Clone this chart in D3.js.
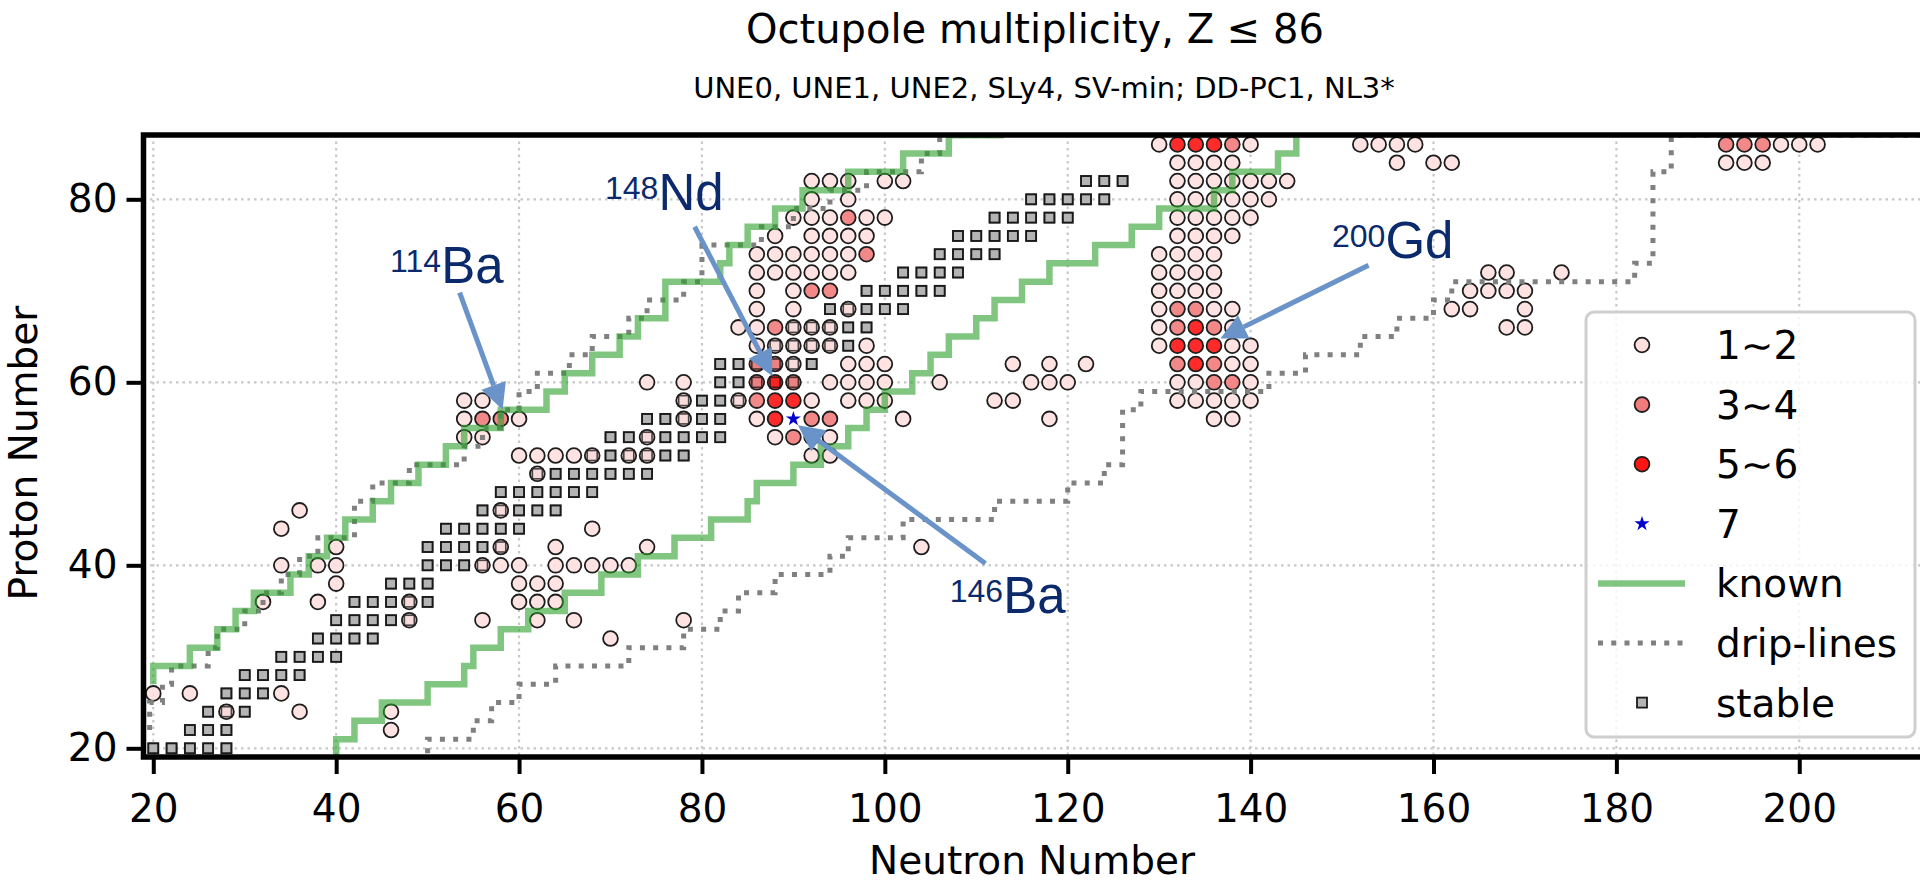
<!DOCTYPE html>
<html>
<head>
<meta charset="utf-8">
<script src="https://cdn.jsdelivr.net/npm/d3@7"></script>
<style>
  body { margin: 0; background: #fff; }
  svg { display: block; font-family: 'DejaVu Sans', sans-serif; }
</style>
</head>
<body>
<svg id="chart" width="1920" height="886"></svg>
<script>
// ---- values ----
const xTicks = [20, 40, 60, 80, 100, 120, 140, 160, 180, 200]
const yTicks = [20, 40, 60, 80]

// stable even-even nuclei: [Z, [N...]]
const stable = [
    [20, [20, 22, 24, 26, 28]], [22, [24, 26, 28]], [24, [26, 28, 30]], [26, [28, 30, 32]],
    [28, [30, 32, 34, 36]], [30, [34, 36, 38, 40]], [32, [38, 40, 42, 44]],
    [34, [40, 42, 44, 46, 48]], [36, [42, 44, 46, 48, 50]], [38, [46, 48, 50]],
    [40, [50, 52, 54, 56]], [42, [50, 52, 54, 56, 58]], [44, [52, 54, 56, 58, 60]],
    [46, [56, 58, 60, 62, 64]], [48, [58, 60, 62, 64, 66, 68]], [50, [62, 64, 66, 68, 70, 72, 74]],
    [52, [68, 70, 72, 74, 76, 78]], [54, [70, 72, 74, 76, 78, 80, 82]], [56, [74, 76, 78, 80, 82]],
    [58, [78, 80, 82, 84]], [60, [82, 84, 86, 88, 90]], [62, [82, 84, 86, 88, 90, 92]],
    [64, [88, 90, 92, 94, 96]], [66, [90, 92, 94, 96, 98]], [68, [94, 96, 98, 100, 102]],
    [70, [98, 100, 102, 104, 106]], [72, [102, 104, 106, 108]], [74, [106, 108, 110, 112]],
    [76, [108, 110, 112, 114, 116]], [78, [112, 114, 116, 118, 120]], [80, [116, 118, 120, 122, 124]],
    [82, [122, 124, 126]]
]

// octupole multiplicity, [Z, [N...]]
const mult12 = [
    [22, [46]], [24, [28, 36, 46]], [26, [20, 24, 34]], [32, [70]],
    [34, [48, 56, 62, 66, 78]], [36, [32, 38, 48, 60, 62, 64]], [38, [40, 60, 62, 64]],
    [40, [34, 38, 40, 56, 58, 60, 64, 66, 68, 70, 72]], [42, [40, 58, 64, 74, 104]],
    [44, [34, 68]], [46, [36, 58]], [50, [62]],
    [52, [60, 62, 64, 66, 68, 72, 74, 92, 94]], [54, [54, 56, 74, 88, 92, 94]],
    [56, [54, 60, 78, 86, 102, 118, 136, 138]],
    [58, [54, 56, 78, 84, 92, 96, 98, 100, 112, 114, 132, 134, 136, 138, 140]],
    [60, [74, 78, 94, 96, 98, 100, 106, 116, 118, 120, 132, 134, 140]],
    [62, [90, 96, 98, 100, 114, 118, 122, 138, 140]],
    [64, [86, 88, 90, 92, 94, 98, 130, 138, 140]],
    [66, [84, 86, 90, 92, 94, 130, 138, 168, 170]],
    [68, [86, 90, 96, 130, 136, 138, 162, 164, 170]],
    [70, [86, 90, 130, 132, 134, 136, 164, 166, 168, 170]],
    [72, [86, 88, 90, 92, 94, 96, 130, 132, 134, 136, 166, 168, 174]],
    [74, [86, 88, 90, 92, 94, 96, 130, 132, 134, 136]],
    [76, [88, 92, 94, 96, 98, 132, 134, 136, 138]],
    [78, [90, 92, 94, 98, 100, 132, 134, 136, 138, 140]],
    [80, [92, 96, 132, 134, 136, 138, 140, 142]],
    [82, [92, 94, 96, 100, 102, 132, 134, 136, 138, 140, 142, 144]],
    [84, [132, 134, 136, 138, 156, 160, 162, 192, 194, 196]],
    [86, [130, 140, 152, 154, 156, 158, 198, 200, 202]]
]
const mult34 = [
    [54, [90]], [56, [56, 58, 92, 94]], [58, [86]], [60, [86, 90, 136, 138]],
    [62, [86, 88, 132, 136]], [66, [88, 132, 136]], [68, [132, 134]], [70, [92, 94]],
    [74, [98]], [78, [96]], [86, [138, 192, 194, 196]]
]
const mult56 = [
    [56, [88]], [58, [88, 90]], [60, [88]], [62, [134]], [64, [132, 134, 136]],
    [66, [134]], [86, [132, 134, 136]]
]
const mult7 = [[56, [90]]]

// step lines: N of each vertical run, Z where that run starts
const knownPN = [20, 24, 27, 29, 31, 35, 37, 39, 41, 44, 46, 49, 52, 54, 58, 63, 65, 68, 71, 73, 76, 82, 83, 85, 88, 91, 96, 102, 107, 113]
const knownPZ = [27, 29, 31, 33, 35, 37, 39, 41, 43, 45, 47, 49, 51, 53, 55, 57, 59, 61, 63, 65, 67, 71, 73, 75, 77, 79, 81, 83, 85, 87]
const knownNN = [40, 42, 45, 50, 54, 55, 58, 61, 65, 69, 73, 77, 81, 85, 86, 90, 93, 96, 98, 100, 103, 105, 107, 110, 112, 115, 118, 123, 127, 130, 136, 138, 143, 145, 145]
const knownNZ = [18, 21, 23, 25, 27, 29, 31, 33, 35, 37, 39, 41, 43, 45, 47, 49, 51, 53, 55, 57, 59, 61, 63, 65, 67, 69, 71, 73, 75, 77, 79, 81, 83, 85, 88]
const dripPN = [19.6, 21, 22, 26, 27, 30, 32, 34, 36, 38, 42, 44, 48, 54, 56, 58, 60, 62, 65.5, 68, 72, 74, 78, 80, 86.5, 90, 94, 98, 104, 106, 112]
const dripPZ = [22, 25, 27, 29, 31, 33, 35, 37, 39, 41, 43, 47, 49, 51, 53, 55, 57, 59, 61, 63, 65, 67, 69, 71, 75, 77, 79, 81, 83, 85, 87]
const dripNN = [50, 55, 57, 60, 64, 72, 78, 82, 84, 88, 94, 96, 102, 112, 120, 124, 126, 128, 142, 146, 152, 156, 160, 162, 182, 184, 186, 216]
const dripNZ = [18, 21, 23, 25, 27, 29, 31, 33, 35, 37, 39, 41, 43, 45, 47, 49, 51, 57, 59, 61, 63, 65, 67, 69, 71, 73, 83, 87]

const legendLabels = ['1\u223C2', '3\u223C4', '5\u223C6', '7', 'known', 'drip-lines', 'stable']

// annotation placement (in N, Z units)
const notes = [
    { mass: '114', el: 'Ba', n: 45.9, z: 70.85, fromN: 53.5, fromZ: 69.8, toN: 58.2, toZ: 57.0 },
    { mass: '148', el: 'Nd', n: 69.4, z: 78.85, fromN: 79.2, fromZ: 77.0, toN: 87.7, toZ: 60.7 },
    { mass: '146', el: 'Ba', n: 107.1, z: 34.8, fromN: 111.0, fromZ: 40.2, toN: 90.5, toZ: 55.3 },
    { mass: '200', el: 'Gd', n: 148.9, z: 73.55, fromN: 152.9, fromZ: 72.8, toN: 136.7, toZ: 64.8 }
]

// ---- drawing ----
const colors = { m12: '#ffe0df', m34: '#f27b7b', m56: '#ff1414', star: '#0000d0', stable: '#b4b4b4', known: '#2ca02c', drip: '#808080' }
const pL = 143.5, pR = 1925, pT = 135, pB = 757

const x = d3.scaleLinear().domain([18.93, 213.75]).range([pL, pR])
const y = d3.scaleLinear().domain([19.05, 87.03]).range([pB, pT])

const svg = d3.select('#chart')
const flat = rows => rows.flatMap(([z, ns]) => ns.map(n => [n, z]))

svg.append('defs').append('clipPath').attr('id', 'plot')
    .append('rect').attr('x', pL).attr('y', pT).attr('width', pR - pL).attr('height', pB - pT)

// grid
const grid = svg.append('g').attr('stroke', '#c8c8c8').attr('stroke-width', 2.2).attr('stroke-dasharray', '2.5,4')
grid.selectAll('.gx').data(xTicks).enter().append('line')
    .attr('x1', d => x(d)).attr('x2', d => x(d)).attr('y1', pT).attr('y2', pB)
grid.selectAll('.gy').data(yTicks).enter().append('line')
    .attr('x1', pL).attr('x2', pR).attr('y1', d => y(d)).attr('y2', d => y(d))

const plot = svg.append('g').attr('clip-path', 'url(#plot)')
const sq = 10

// stable squares
plot.append('g').selectAll('rect').data(flat(stable)).enter().append('rect')
    .attr('x', d => x(d[0]) - sq / 2).attr('y', d => y(d[1]) - sq / 2)
    .attr('width', sq).attr('height', sq)
    .attr('fill', colors.stable).attr('stroke', '#1a1a1a').attr('stroke-width', 1.8)

const dots = (rows, fill) => {
    plot.append('g').selectAll('circle').data(flat(rows)).enter().append('circle')
        .attr('cx', d => x(d[0])).attr('cy', d => y(d[1])).attr('r', 7.4)
        .attr('fill', fill).attr('fill-opacity', 0.9)
        .attr('stroke', '#1e1e1e').attr('stroke-width', 1.8)
}
dots(mult12, colors.m12)
dots(mult34, colors.m34)
dots(mult56, colors.m56)

// square outlines showing through the circles
plot.append('g').selectAll('rect').data(flat(stable)).enter().append('rect')
    .attr('x', d => x(d[0]) - sq / 2).attr('y', d => y(d[1]) - sq / 2)
    .attr('width', sq).attr('height', sq)
    .attr('fill', 'none').attr('stroke', '#1a1a1a').attr('stroke-width', 1.6).attr('stroke-opacity', 0.75)

plot.append('g').selectAll('path').data(flat(mult7)).enter().append('path')
    .attr('d', d3.symbol().type(d3.symbolStar).size(70))
    .attr('transform', d => 'translate(' + x(d[0]) + ',' + y(d[1]) + ')')
    .attr('fill', colors.star)

// step lines
const step = d3.line().x(d => x(d[0])).y(d => y(d[1])).curve(d3.curveStepBefore)
const pts = (ns, zs) => ns.map((n, i) => [n, zs[i]])

plot.selectAll('.drip').data([pts(dripPN, dripPZ), pts(dripNN, dripNZ)]).enter().append('path')
    .attr('d', step).attr('fill', 'none')
    .attr('stroke', colors.drip).attr('stroke-width', 5).attr('stroke-dasharray', '5,8.25')

plot.selectAll('.known').data([pts(knownPN, knownPZ), pts(knownNN, knownNZ)]).enter().append('path')
    .attr('d', step).attr('fill', 'none')
    .attr('stroke', colors.known).attr('stroke-opacity', 0.6).attr('stroke-width', 6.5)

// spines
svg.append('rect').attr('x', pL).attr('y', pT).attr('width', pR - pL + 20).attr('height', pB - pT)
    .attr('fill', 'none').attr('stroke', '#000').attr('stroke-width', 5.5)

// axes
const xAxis = svg.append('g').attr('transform', 'translate(0,' + pB + ')')
    .call(d3.axisBottom(x).tickValues(xTicks).tickSize(17).tickPadding(20).tickFormat(d3.format('d')))
const yAxis = svg.append('g').attr('transform', 'translate(' + pL + ',0)')
    .call(d3.axisLeft(y).tickValues(yTicks).tickSize(17).tickPadding(9).tickFormat(d3.format('d')))
;[xAxis, yAxis].forEach(a => {
    a.select('.domain').remove()
    a.selectAll('.tick line').attr('stroke', '#000').attr('stroke-width', 4)
    a.selectAll('.tick text').attr('fill', '#000').style('font-size', '39px').style('font-family', 'DejaVu Sans')
})

// titles
svg.append('text').attr('x', 1035).attr('y', 43).attr('text-anchor', 'middle')
    .style('font-size', '40px').text('Octupole multiplicity, Z \u2264 86')
svg.append('text').attr('x', 1044).attr('y', 98).attr('text-anchor', 'middle')
    .style('font-size', '29px').text('UNE0, UNE1, UNE2, SLy4, SV-min; DD-PC1, NL3*')
svg.append('text').attr('x', 1032).attr('y', 874).attr('text-anchor', 'middle')
    .style('font-size', '39px').text('Neutron Number')
svg.append('text').attr('transform', 'translate(37,453) rotate(-90)').attr('text-anchor', 'middle')
    .style('font-size', '39px').text('Proton Number')

// annotations with arrows
const arrowCol = '#6a93c9'
const ann = svg.append('g')
notes.forEach(d => {
    const x0 = x(d.fromN), y0 = y(d.fromZ), x1 = x(d.toN), y1 = y(d.toZ)
    const len = Math.hypot(x1 - x0, y1 - y0), ux = (x1 - x0) / len, uy = (y1 - y0) / len
    const hl = 26, hw = 13
    const bx = x1 - ux * hl, by = y1 - uy * hl
    ann.append('line').attr('x1', x0).attr('y1', y0).attr('x2', bx).attr('y2', by)
        .attr('stroke', arrowCol).attr('stroke-width', 5)
    ann.append('path')
        .attr('d', 'M' + x1 + ',' + y1 + 'L' + (bx - uy * hw) + ',' + (by + ux * hw) + 'L' + (bx + uy * hw) + ',' + (by - ux * hw) + 'Z')
        .attr('fill', arrowCol)
    const t = ann.append('text').attr('x', x(d.n)).attr('y', y(d.z))
        .attr('fill', '#0b2a6b').style('font-family', "'Liberation Sans', Arial, sans-serif")
    t.append('tspan').attr('dy', -11).style('font-size', '32px').text(d.mass)
    t.append('tspan').attr('dy', 11).style('font-size', '51px').text(d.el)
})

// legend
const lg = svg.append('g')
lg.append('rect').attr('x', 1586).attr('y', 312).attr('width', 329).attr('height', 425).attr('rx', 8)
    .attr('fill', '#fff').attr('fill-opacity', 0.8).attr('stroke', '#cfcfcf').attr('stroke-width', 3)
const rowY = i => 345 + i * 59.6
const mk = 1642
lg.selectAll('text').data(legendLabels).enter().append('text')
    .attr('x', 1716).attr('y', (d, i) => rowY(i) + 14).style('font-size', '39px').text(d => d)
;[colors.m12, colors.m34, colors.m56].forEach((c, i) => {
    lg.append('circle').attr('cx', mk).attr('cy', rowY(i)).attr('r', 7.4)
        .attr('fill', c).attr('stroke', '#1e1e1e').attr('stroke-width', 1.8)
})
lg.append('path').attr('d', d3.symbol().type(d3.symbolStar).size(70))
    .attr('transform', 'translate(' + mk + ',' + rowY(3) + ')').attr('fill', colors.star)
lg.append('line').attr('x1', 1598).attr('x2', 1685).attr('y1', rowY(4)).attr('y2', rowY(4))
    .attr('stroke', colors.known).attr('stroke-opacity', 0.6).attr('stroke-width', 6.5)
lg.append('line').attr('x1', 1598).attr('x2', 1685).attr('y1', rowY(5)).attr('y2', rowY(5))
    .attr('stroke', colors.drip).attr('stroke-width', 5).attr('stroke-dasharray', '5,8.25')
lg.append('rect').attr('x', mk - sq / 2).attr('y', rowY(6) - sq / 2).attr('width', sq).attr('height', sq)
    .attr('fill', colors.stable).attr('stroke', '#1a1a1a').attr('stroke-width', 1.8)
</script>
</body>
</html>
